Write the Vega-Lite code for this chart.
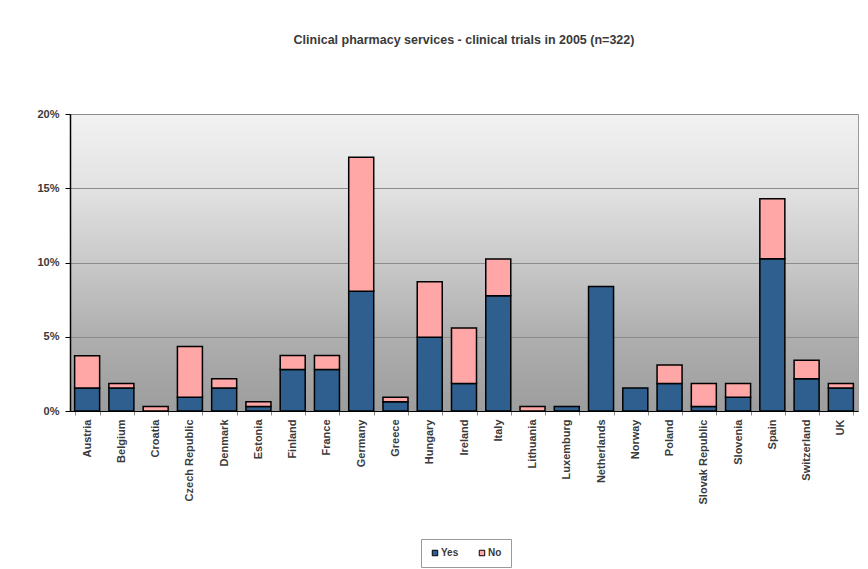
{
  "$schema": "https://vega.github.io/schema/vega-lite/v6.json",
  "autosize": {"type": "none"},
  "width": 788,
  "height": 297,
  "padding": {"left": 70, "top": 114, "right": 10, "bottom": 158},
  "background": "white",
  "title": {
    "text": "Clinical pharmacy services - clinical trials in 2005 (n=322)",
    "font": "Liberation Sans",
    "fontSize": 12.5,
    "fontWeight": "bold",
    "color": "#3a3a3a",
    "anchor": "middle",
    "offset": 62
  },
  "config": {
    "font": "Liberation Sans",
    "view": {
      "stroke": "#9a9a9a",
      "strokeWidth": 1,
      "fill": {
        "gradient": "linear",
        "x1": 0, "y1": 0, "x2": 0, "y2": 1,
        "stops": [
          {"offset": 0, "color": "#f2f2f2"},
          {"offset": 0.25, "color": "#e2e2e2"},
          {"offset": 0.5, "color": "#c9c9c9"},
          {"offset": 0.75, "color": "#aeaeae"},
          {"offset": 1, "color": "#9d9d9d"}
        ]
      }
    }
  },
  "data": {
    "values": [
      {"country": "Austria", "response": "Yes", "value": 0.0155},
      {"country": "Austria", "response": "No", "value": 0.0217},
      {"country": "Belgium", "response": "Yes", "value": 0.0155},
      {"country": "Belgium", "response": "No", "value": 0.0031},
      {"country": "Croatia", "response": "No", "value": 0.0031},
      {"country": "Czech Republic", "response": "Yes", "value": 0.0093},
      {"country": "Czech Republic", "response": "No", "value": 0.0342},
      {"country": "Denmark", "response": "Yes", "value": 0.0155},
      {"country": "Denmark", "response": "No", "value": 0.0062},
      {"country": "Estonia", "response": "Yes", "value": 0.0031},
      {"country": "Estonia", "response": "No", "value": 0.0031},
      {"country": "Finland", "response": "Yes", "value": 0.028},
      {"country": "Finland", "response": "No", "value": 0.0093},
      {"country": "France", "response": "Yes", "value": 0.028},
      {"country": "France", "response": "No", "value": 0.0093},
      {"country": "Germany", "response": "Yes", "value": 0.0807},
      {"country": "Germany", "response": "No", "value": 0.0901},
      {"country": "Greece", "response": "Yes", "value": 0.0062},
      {"country": "Greece", "response": "No", "value": 0.0031},
      {"country": "Hungary", "response": "Yes", "value": 0.0497},
      {"country": "Hungary", "response": "No", "value": 0.0373},
      {"country": "Ireland", "response": "Yes", "value": 0.0186},
      {"country": "Ireland", "response": "No", "value": 0.0373},
      {"country": "Italy", "response": "Yes", "value": 0.0776},
      {"country": "Italy", "response": "No", "value": 0.0248},
      {"country": "Lithuania", "response": "No", "value": 0.0031},
      {"country": "Luxemburg", "response": "Yes", "value": 0.0031},
      {"country": "Netherlands", "response": "Yes", "value": 0.0839},
      {"country": "Norway", "response": "Yes", "value": 0.0155},
      {"country": "Poland", "response": "Yes", "value": 0.0186},
      {"country": "Poland", "response": "No", "value": 0.0124},
      {"country": "Slovak Republic", "response": "Yes", "value": 0.0031},
      {"country": "Slovak Republic", "response": "No", "value": 0.0155},
      {"country": "Slovenia", "response": "Yes", "value": 0.0093},
      {"country": "Slovenia", "response": "No", "value": 0.0093},
      {"country": "Spain", "response": "Yes", "value": 0.1025},
      {"country": "Spain", "response": "No", "value": 0.0404},
      {"country": "Switzerland", "response": "Yes", "value": 0.0217},
      {"country": "Switzerland", "response": "No", "value": 0.0124},
      {"country": "UK", "response": "Yes", "value": 0.0155},
      {"country": "UK", "response": "No", "value": 0.0031}
    ]
  },
  "mark": {"type": "bar", "stroke": "black", "strokeWidth": 1.5},
  "encoding": {
    "x": {
      "field": "country",
      "type": "nominal",
      "sort": ["Austria", "Belgium", "Croatia", "Czech Republic", "Denmark", "Estonia", "Finland", "France", "Germany", "Greece", "Hungary", "Ireland", "Italy", "Lithuania", "Luxemburg", "Netherlands", "Norway", "Poland", "Slovak Republic", "Slovenia", "Spain", "Switzerland", "UK"],
      "scale": {"paddingInner": 0.27, "paddingOuter": 0.135},
      "axis": {
        "title": null,
        "labelAngle": -90,
        "labelAlign": "right",
        "labelBaseline": "middle",
        "labelFont": "Liberation Sans",
        "labelFontSize": 11,
        "labelFontWeight": "bold",
        "labelColor": "#3a3a3a",
        "labelPadding": 4,
        "tickBand": "extent",
        "tickColor": "#8a8a8a",
        "tickSize": 4,
        "domainColor": "black",
        "domainWidth": 1,
        "grid": false
      }
    },
    "y": {
      "field": "value",
      "type": "quantitative",
      "stack": "zero",
      "scale": {"domain": [0, 0.2], "nice": false},
      "axis": {
        "title": null,
        "values": [0, 0.05, 0.1, 0.15, 0.2],
        "format": ".0%",
        "labelFont": "Liberation Sans",
        "labelFontSize": 11,
        "labelFontWeight": "bold",
        "labelColor": "#3a3a3a",
        "labelPadding": 6,
        "tickColor": "black",
        "tickSize": 5,
        "domainColor": "black",
        "domainWidth": 1.5,
        "grid": true,
        "gridColor": "#8c8c8c",
        "gridWidth": 1
      }
    },
    "color": {
      "field": "response",
      "type": "nominal",
      "scale": {"domain": ["Yes", "No"], "range": ["#2f5f8f", "#ffa6a6"]},
      "legend": {
        "title": null,
        "orient": "none",
        "legendX": 351,
        "legendY": 425,
        "direction": "horizontal",
        "symbolType": "square",
        "symbolSize": 30,
        "symbolStrokeColor": "black",
        "symbolStrokeWidth": 1,
        "labelFont": "Liberation Sans",
        "labelFontSize": 10,
        "labelFontWeight": "bold",
        "labelColor": "#3a3a3a",
        "labelOffset": 1,
        "columnPadding": 18,
        "padding": 9,
        "strokeColor": "#9a9a9a",
        "fillColor": "white"
      }
    },
    "order": {"field": "response", "sort": "descending"}
  }
}
